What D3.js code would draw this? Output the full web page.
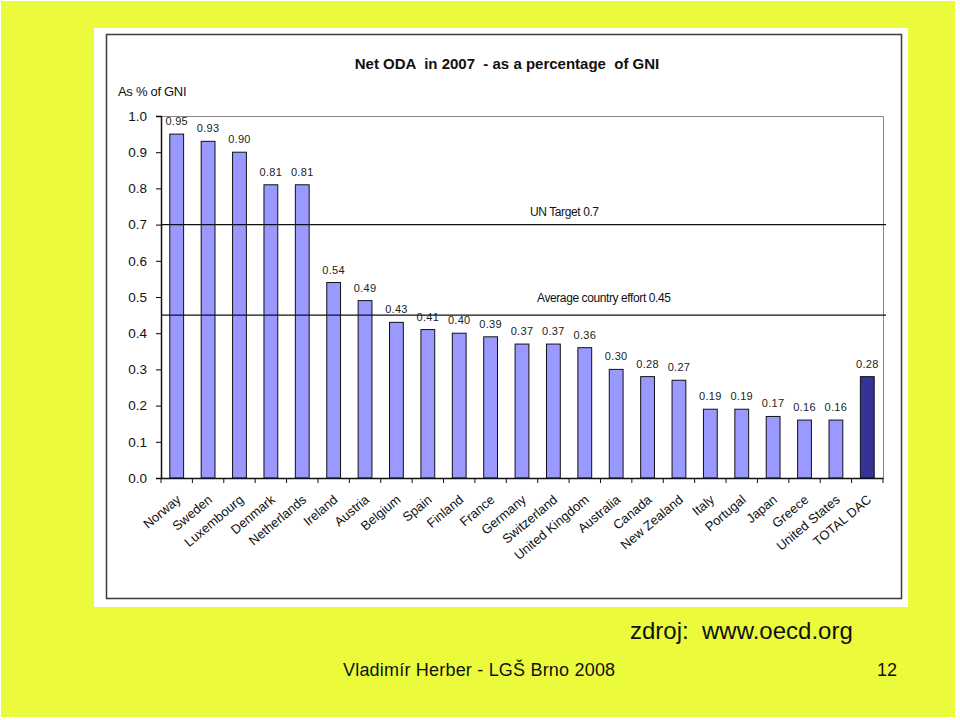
<!DOCTYPE html>
<html><head><meta charset="utf-8">
<script src="https://cdn.jsdelivr.net/npm/d3@7"></script>
<style>
html,body{margin:0;padding:0;background:#fff;}
svg text{font-family:"Liberation Sans",Arial,sans-serif;}
</style></head>
<body>
<svg id="c" width="960" height="720"></svg>
<script>
const countries = ["Norway","Sweden","Luxembourg","Denmark","Netherlands","Ireland","Austria","Belgium","Spain","Finland","France","Germany","Switzerland","United Kingdom","Australia","Canada","New Zealand","Italy","Portugal","Japan","Greece","United States","TOTAL DAC"];
const odaValues = [0.95,0.93,0.90,0.81,0.81,0.54,0.49,0.43,0.41,0.40,0.39,0.37,0.37,0.36,0.30,0.28,0.27,0.19,0.19,0.17,0.16,0.16,0.28];
const yTicks = [0.0,0.1,0.2,0.3,0.4,0.5,0.6,0.7,0.8,0.9,1.0];
const refLines = [{value:0.7,label:"UN Target 0.7"},{value:0.45,label:"Average country effort 0.45"}];

const svg = d3.select("#c");
svg.append("rect").attr("x",1).attr("y",1).attr("width",954).attr("height",716).attr("fill","#ebfb3b");
svg.append("rect").attr("x",94).attr("y",28).attr("width",814).attr("height",579).attr("fill","#fff");
svg.append("rect").attr("x",106.5).attr("y",34.5).attr("width",795).attr("height",564)
  .attr("fill","none").attr("stroke","#3a3a3a").attr("stroke-width",1.5);

const L=161, R=883, T=116, B=478;
const x = d3.scaleBand().domain(countries).range([L,R]).paddingInner(0.56).paddingOuter(0.28);
const y = d3.scaleLinear().domain([0,1]).range([B,T]);

svg.append("path").attr("d",`M${L},${T+0.5}H${R+0.5}V${B}`).attr("fill","none").attr("stroke","#888").attr("stroke-width",1);

svg.append("text").attr("x",507).attr("y",69).attr("text-anchor","middle")
  .attr("font-size",15).attr("font-weight","bold").attr("fill","#111")
  .attr("xml:space","preserve")
  .text("Net ODA  in 2007  - as a percentage  of GNI");
svg.append("text").attr("x",118).attr("y",96).attr("font-size",13).attr("fill","#111").attr("letter-spacing",-0.3).text("As % of GNI");

svg.append("g").selectAll("rect").data(odaValues).join("rect")
  .attr("x",(d,i)=>x(countries[i])).attr("width",x.bandwidth())
  .attr("y",d=>y(d)).attr("height",d=>y(0)-y(d))
  .attr("fill",(d,i)=>countries[i]==="TOTAL DAC"?"#333399":"#9999ff")
  .attr("stroke","#111").attr("stroke-width",1);

svg.append("g").selectAll("text").data(odaValues).join("text")
  .attr("x",(d,i)=>x(countries[i])+x.bandwidth()/2)
  .attr("y",d=>y(d)-9)
  .attr("text-anchor","middle").attr("font-size",11).attr("letter-spacing",0.3).attr("fill","#222")
  .text(d=>d3.format(".2f")(d));

refLines.forEach(r=>{
  svg.append("line").attr("x1",L).attr("x2",R+3).attr("y1",y(r.value)).attr("y2",y(r.value))
    .attr("stroke","#111").attr("stroke-width",1.2);
});
svg.append("text").attr("x",530).attr("y",y(0.7)-9).attr("font-size",12).attr("fill","#111").attr("letter-spacing",-0.4).text(refLines[0].label);
svg.append("text").attr("x",537).attr("y",y(0.45)-13).attr("font-size",12).attr("fill","#111").attr("letter-spacing",-0.4).text(refLines[1].label);

const yAxis = svg.append("g").attr("transform",`translate(${L},0)`)
  .call(d3.axisLeft(y).tickValues(yTicks).tickFormat(d3.format(".1f")).tickSize(5).tickPadding(9));
yAxis.select(".domain").attr("stroke","#111").attr("stroke-width",1.5);
yAxis.selectAll("text").attr("font-size",13.5).attr("fill","#111").style("font-family","'Liberation Sans',Arial,sans-serif");

const xAxis = svg.append("g").attr("transform",`translate(0,${B})`)
  .call(d3.axisBottom(x).tickSize(0).tickSizeOuter(0));
xAxis.select(".domain").attr("stroke","#111").attr("stroke-width",1.5);
const step = x.step();
xAxis.selectAll(".tick line").remove();
xAxis.append("g").selectAll("line").data(d3.range(countries.length+1)).join("line")
  .attr("x1",i=>L+i*step).attr("x2",i=>L+i*step).attr("y1",0).attr("y2",5).attr("stroke","#111");
xAxis.selectAll(".tick text")
  .attr("font-size",13).attr("fill","#111").style("font-family","'Liberation Sans',Arial,sans-serif")
  .attr("text-anchor","end").attr("dy",0).attr("y",0)
  .attr("transform","translate(5,23) rotate(-40)");

svg.append("text").attr("x",630).attr("y",639).attr("font-size",24).attr("fill","#111").attr("xml:space","preserve").text("zdroj:  www.oecd.org");
svg.append("text").attr("x",343).attr("y",676).attr("font-size",18).attr("fill","#111").attr("letter-spacing",0.2).text("Vladimír Herber - LGŠ Brno 2008");
svg.append("text").attr("x",877).attr("y",676).attr("font-size",18).attr("fill","#111").text("12");
</script>
</body></html>
